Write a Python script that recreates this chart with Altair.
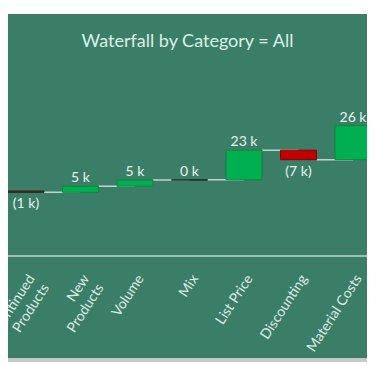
import json
import altair as alt
import pandas as pd

NB = "\u00a0"

# ---- data -----------------------------------------------------------------
CATEGORIES = ["Discontinued Products", "New Products", "Volume", "Mix",
              "List Price", "Discounting", "Material Costs"]
LABEL_LINES = [["Discontinued", "Products" + NB * 4],
               ["New" + NB * 5, "Products"],
               ["Volume"], ["Mix"], ["List Price"], ["Discounting"],
               ["Material Costs"]]
START_LEVEL = 50          # running total carried in from the bar left of the crop (k)
DELTAS = [-1.0, 4.7, 4.7, 0.2, 22.8, -7.3, 26.2]   # change per category (k)
TITLE = "Waterfall by Category = All"

# ---- derived table ---------------------------------------------------------
starts, ends = [], []
lvl = START_LEVEL
for d in DELTAS:
    starts.append(lvl)
    lvl = round(lvl + d, 3)
    ends.append(lvl)


def fmt(d):
    r = int(round(abs(d)))
    return f"({r} k)" if d < 0 else f"{r} k"


df = pd.DataFrame({
    "cat": CATEGORIES,
    "start": starts,
    "end": ends,
    "delta": DELTAS,
    "label": [fmt(d) for d in DELTAS],
    "sign": ["up" if d >= 0 else "down" for d in DELTAS],
    "kind": ["tiny" if abs(d) < 1.5 else ("up" if d >= 0 else "down") for d in DELTAS],
    "next": CATEGORIES[1:] + ["Material Costs"],
    "has_next": [True] * (len(CATEGORIES) - 1) + [False],
})

W, H = 359, 156
BG = "#3b7e68"
LIGHT = "#dcefe7"
CONN = "#bcd6cb"

label_expr = (json.dumps(LABEL_LINES, ensure_ascii=False)
              + "[indexof(" + json.dumps(CATEGORIES) + ", datum.value)]")

xscale = alt.Scale(domain=CATEGORIES, range=[0, 363], paddingInner=0.34, paddingOuter=0)
xaxis = alt.Axis(title=None, domain=False, ticks=False, labelAngle=-57,
                 labelAlign="right", labelBaseline="top", labelPadding=16,
                 labelFont="Lato", labelFontSize=14, labelColor="#d9ece4",
                 labelLimit=0, labelOverlap=False, labelExpr=label_expr,
                 labelLineHeight=17, zindex=1)
X = alt.X("cat:N", sort=CATEGORIES, scale=xscale, axis=xaxis)
yscale = alt.Scale(domain=[0, 120])

one = pd.DataFrame({"a": [0]})

bg = alt.Chart(one).mark_rect(color=BG).encode(
    x=alt.value(-10), x2=alt.value(W + 20), y=alt.value(-86), y2=alt.value(258))
shadow = alt.Chart(one).mark_rect(color="#c6c9c8").encode(
    x=alt.value(-10), x2=alt.value(W + 20), y=alt.value(258), y2=alt.value(262))
baseline = alt.Chart(one).mark_rule(color=CONN, strokeWidth=1.5).encode(
    x=alt.value(-10), x2=alt.value(W + 20), y=alt.value(H))

conn = alt.Chart(df).transform_filter("datum.has_next").mark_rule(
    color=CONN, strokeWidth=1.5).encode(
    x=alt.X("cat:N", sort=CATEGORIES, scale=xscale, axis=xaxis, bandPosition=1),
    x2=alt.X2("next:N"),
    y=alt.Y("end:Q", scale=yscale, axis=None))
conn_last = alt.Chart(df).transform_filter("!datum.has_next").mark_rule(
    color=CONN, strokeWidth=1.5).encode(
    x=alt.X("cat:N", sort=CATEGORIES, scale=xscale, axis=xaxis, bandPosition=1),
    x2=alt.value(W + 20),
    y=alt.Y("end:Q", scale=yscale, axis=None))

bars = alt.Chart(df).mark_bar(strokeWidth=1).encode(
    x=X,
    y=alt.Y("start:Q", scale=yscale, axis=None),
    y2="end:Q",
    fill=alt.Fill("sign:N", scale=alt.Scale(domain=["up", "down"],
                                            range=["#00b050", "#c00000"]), legend=None),
    stroke=alt.Stroke("kind:N", scale=alt.Scale(domain=["up", "down", "tiny"],
                                                range=["#12843f", "#8e0000", "#1d2b25"]),
                      legend=None),
)

txt_pos = alt.Chart(df).transform_filter("datum.delta >= 0").mark_text(
    baseline="alphabetic", dy=-4, font="Lato", fontSize=14, color="#e6f3ed").encode(
    x=X, y=alt.Y("end:Q", scale=yscale, axis=None), text="label:N")
txt_neg = alt.Chart(df).transform_filter("datum.delta < 0").mark_text(
    baseline="top", dy=5, font="Lato", fontSize=14, color="#e6f3ed").encode(
    x=X, y=alt.Y("end:Q", scale=yscale, axis=None), text="label:N")

chart = alt.layer(bg, shadow, baseline, conn, conn_last, bars, txt_pos, txt_neg).properties(
    width=W, height=H,
    title=alt.TitleParams(TITLE, font="Lato", fontSize=18, fontWeight="normal",
                          color=LIGHT, anchor="middle", frame="group",
                          baseline="alphabetic", offset=-51, zindex=1),
    padding={"left": 0, "top": 92, "right": 0, "bottom": 110},
    autosize="none",
    background="white",
).configure_view(stroke=None)

chart.save("out.html", embed_options={"renderer": "svg", "actions": False})
